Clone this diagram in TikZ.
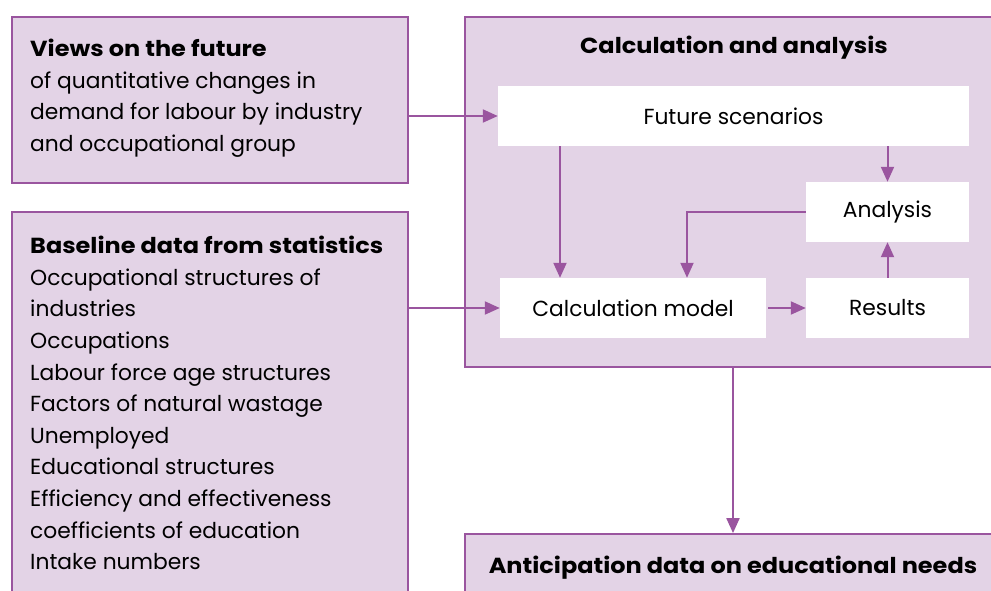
\documentclass[tikz,border=0pt]{standalone}
\usepackage{fontspec}
\setmainfont{Poppins}[BoldFeatures={FakeStretch=1.1}]
\usetikzlibrary{arrows.meta}
\definecolor{boxfill}{HTML}{E3D3E6}
\definecolor{purp}{HTML}{9A559F}
\tikzset{
  panel/.style={draw=purp, line width=1.8pt, fill=boxfill, rectangle, inner sep=0pt},
  wbox/.style={fill=white, rectangle, inner sep=0pt, minimum height=60pt, font=\fontsize{21.8}{26}\selectfont},
  txt/.style={inner sep=0pt, align=left, anchor=north west, font=\fontsize{21.8}{31.6}\selectfont},
  ttl/.style={inner sep=0pt, font=\fontsize{21.8}{26}\selectfont\bfseries},
  conn/.style={draw=purp, line width=2pt, -{Triangle[length=15pt,width=13pt]}},
}
\begin{document}
\begin{tikzpicture}[x=1pt,y=-1pt]
\useasboundingbox (0,0) rectangle (991,590);
\clip (0,0) rectangle (991,590);
\fill[white] (0,0) rectangle (991,590);
% left panels
\node[panel, minimum width=396pt, minimum height=166pt] (views) at (210,100) {};
\node[panel, minimum width=396pt, minimum height=420pt] (base) at (210,422) {};
% right panels
\node[panel, minimum width=560pt, minimum height=350pt] (calc) at (745,192) {};
\node[panel, minimum width=560pt, minimum height=120pt] (antic) at (745,594) {};
% texts
\node[txt] (viewstxt) at (30,39) {\textbf{Views on the future}\\of quantitative changes in\\demand for labour by industry\\and occupational group};
\node[txt] (basetxt) at (30,236) {\textbf{Baseline data from statistics}\\Occupational structures of\\industries\\Occupations\\Labour force age structures\\Factors of natural wastage\\Unemployed\\Educational structures\\Efficiency and effectiveness\\coefficients of education\\Intake numbers};
\node[ttl] (calctitle) at (734,48) {Calculation and analysis};
\node[ttl] (antictitle) at (733,568) {Anticipation data on educational needs};
% white boxes
\node[wbox, minimum width=471pt] (future) at (733.5,116) {Future scenarios};
\node[wbox, minimum width=163pt] (analysis) at (887.5,212) {Analysis};
\node[wbox, minimum width=266pt] (model) at (633,308) {Calculation model};
\node[wbox, minimum width=163pt] (results) at (887.5,308) {Results};
% connectors
\draw[conn] (views.east |- future) -- (future.west);
\draw[conn] (base.east |- model) -- (model.west);
\draw[conn] (future.south -| 560,0) -- (model.north -| 560,0);
\draw[conn] (future.south -| analysis) -- (analysis.north);
\draw[conn] (analysis.west) -| (model.north -| 687,0);
\draw[conn] ([xshift=2pt]model.east) -- (results.west);
\draw[conn] (results.north) -- (analysis.south);
\draw[conn] (calc.south -| 733,0) -- (antic.north -| 733,0);
\end{tikzpicture}
\end{document}
